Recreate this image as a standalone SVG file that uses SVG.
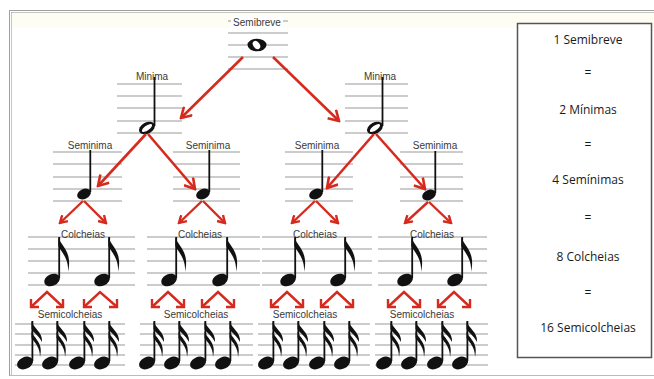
<svg xmlns="http://www.w3.org/2000/svg" xmlns:xlink="http://www.w3.org/1999/xlink" width="654" height="379" viewBox="0 0 654 379">
<style>
.staff{stroke:#9a9a9a;stroke-width:1.2;fill:none}
.lbl{font-family:"Liberation Sans",Arial,sans-serif;font-size:10px;fill:#3a3a3a;text-anchor:middle}
.box{font-family:"Open Sans","Liberation Sans",sans-serif;font-size:12px;fill:#1a1a1a;text-anchor:middle}
.ar{stroke:#d62a1e;stroke-width:2.6;fill:none}
.ars{stroke:#d62a1e;stroke-width:2.4;fill:none}
.stem{stroke:#111;stroke-width:1.8}
.frame{stroke:#a0a0a0;fill:none}
</style>
<defs>
<marker id="ah" viewBox="0 0 14 14" refX="12" refY="7" markerWidth="14" markerHeight="14" markerUnits="userSpaceOnUse" orient="auto"><path d="M2,1 L12,7 L2,13" fill="none" stroke="#d62a1e" stroke-width="2.6"/></marker>
<marker id="ahs" viewBox="0 0 10 10" refX="8.5" refY="5" markerWidth="10" markerHeight="10" markerUnits="userSpaceOnUse" orient="auto"><path d="M1.5,0.8 L8.5,5 L1.5,9.2" fill="none" stroke="#d62a1e" stroke-width="2.4"/></marker>
<g id="n4"><ellipse cx="0" cy="0" rx="7.2" ry="5" transform="rotate(-25)" fill="#111"/><line class="stem" x1="6.3" y1="-2" x2="6.3" y2="-44"/></g>
<g id="n8"><ellipse cx="0" cy="0" rx="8.2" ry="5.8" transform="rotate(-25)" fill="#111"/><line class="stem" x1="7.2" y1="-2" x2="7.2" y2="-43"/><path d="M6.3,-43 C8,-35 21,-29 16,-8 C17,-21 10,-27 6.3,-34 Z" fill="#111"/></g>
<g id="n16"><ellipse cx="0" cy="0" rx="8.4" ry="5.9" transform="rotate(-25)" fill="#111"/><line class="stem" x1="7.4" y1="-2" x2="7.4" y2="-42"/><path d="M6.5,-42 C8,-35 18,-31 17,-21 C14,-27 9,-30 6.5,-34 Z" fill="#111"/><path d="M6.5,-32 C8,-25 19,-21 15,-6 C15,-16 10,-20 6.5,-25 Z" fill="#111"/></g>
</defs>
<rect x="0" y="0" width="654" height="379" fill="#ffffff"/>
<rect x="11" y="12" width="643" height="16" fill="#fdfdf3"/>
<g id="frame">
<line class="frame" x1="9" y1="10.5" x2="654" y2="10.5"/>
<line class="frame" x1="11" y1="12.5" x2="654" y2="12.5" stroke-opacity="0.6"/>
<line class="frame" x1="9.5" y1="10" x2="9.5" y2="376"/>
<line class="frame" x1="11.5" y1="12" x2="11.5" y2="375" stroke-opacity="0.6"/>
<line class="frame" x1="9" y1="375.5" x2="654" y2="375.5" stroke-opacity="0.7"/>
</g>
<g id="semibreve">
<path class="staff" d="M228,21H288M228,33H288M228,45H288M228,57H288M228,69H288"/>
<rect x="231" y="16" width="52" height="12" fill="#fff"/>
<text class="lbl" x="257" y="26">Semibreve</text>
<ellipse cx="257" cy="45" rx="9.5" ry="6.3" fill="#111"/>
<ellipse cx="256.5" cy="45" rx="3.2" ry="4.6" transform="rotate(-35 256.5 45)" fill="#fff"/>
</g>
<g id="minima-1">
<path class="staff" d="M117,84H182M117,96H182M117,108H182M117,121H182M117,133H182"/>
<text class="lbl" x="152" y="80">Minima</text>
<line class="stem" x1="154.5" y1="77" x2="154.5" y2="126"/>
<ellipse cx="147" cy="128" rx="8.5" ry="5.6" transform="rotate(-28 147 128)" fill="#111"/>
<ellipse cx="147" cy="128" rx="6" ry="2.4" transform="rotate(-35 147 128)" fill="#fff"/>
</g>
<g id="minima-2">
<path class="staff" d="M345,84H408M345,96H408M345,108H408M345,121H408M345,133H408"/>
<text class="lbl" x="380" y="80">Minima</text>
<line class="stem" x1="382.5" y1="77" x2="382.5" y2="126"/>
<ellipse cx="375" cy="128" rx="8.5" ry="5.6" transform="rotate(-28 375 128)" fill="#111"/>
<ellipse cx="375" cy="128" rx="6" ry="2.4" transform="rotate(-35 375 128)" fill="#fff"/>
</g>
<g id="seminima-1">
<path class="staff" d="M53,152H122M53,164H122M53,177H122M53,189H122M53,201H122"/>
<text class="lbl" x="90" y="149">Seminima</text>
<use xlink:href="#n4" x="84" y="194"/>
</g>
<g id="seminima-2">
<path class="staff" d="M173,152H240M173,164H240M173,177H240M173,189H240M173,201H240"/>
<text class="lbl" x="208" y="149">Seminima</text>
<use xlink:href="#n4" x="203" y="194"/>
</g>
<g id="seminima-3">
<path class="staff" d="M285,152H353M285,164H353M285,177H353M285,189H353M285,201H353"/>
<text class="lbl" x="317" y="149">Seminima</text>
<use xlink:href="#n4" x="316" y="194"/>
</g>
<g id="seminima-4">
<path class="staff" d="M400,152H463M400,164H463M400,177H463M400,189H463M400,201H463"/>
<text class="lbl" x="435" y="149">Seminima</text>
<use xlink:href="#n4" x="429" y="195"/>
</g>
<g id="colcheias-1">
<path class="staff" d="M28,237H135M28,249H135M28,261H135M28,273H135M28,285H135"/>
<text class="lbl" x="83" y="238">Colcheias</text>
<use xlink:href="#n8" x="52" y="280"/><use xlink:href="#n8" x="102" y="280"/>
</g>
<g id="colcheias-2">
<path class="staff" d="M147,237H260M147,249H260M147,261H260M147,273H260M147,285H260"/>
<text class="lbl" x="200" y="238">Colcheias</text>
<use xlink:href="#n8" x="169" y="280"/><use xlink:href="#n8" x="220" y="280"/>
</g>
<g id="colcheias-3">
<path class="staff" d="M262,237H372M262,249H372M262,261H372M262,273H372M262,285H372"/>
<text class="lbl" x="315" y="238">Colcheias</text>
<use xlink:href="#n8" x="288" y="280"/><use xlink:href="#n8" x="338" y="280"/>
</g>
<g id="colcheias-4">
<path class="staff" d="M378,237H487M378,249H487M378,261H487M378,273H487M378,285H487"/>
<text class="lbl" x="432" y="238">Colcheias</text>
<use xlink:href="#n8" x="405" y="280"/><use xlink:href="#n8" x="455" y="280"/>
</g>
<g id="semicolcheias-1">
<path class="staff" d="M15,324H125M15,334H125M15,345H125M15,355H125M15,365H125"/>
<text class="lbl" x="70" y="318">Semicolcheias</text>
<use xlink:href="#n16" x="25" y="363"/><use xlink:href="#n16" x="50" y="363"/><use xlink:href="#n16" x="77" y="363"/><use xlink:href="#n16" x="102" y="363"/>
</g>
<g id="semicolcheias-2">
<path class="staff" d="M140,324H253M140,334H253M140,345H253M140,355H253M140,365H253"/>
<text class="lbl" x="196" y="318">Semicolcheias</text>
<use xlink:href="#n16" x="147" y="363"/><use xlink:href="#n16" x="172" y="363"/><use xlink:href="#n16" x="198" y="363"/><use xlink:href="#n16" x="223" y="363"/>
</g>
<g id="semicolcheias-3">
<path class="staff" d="M258,324H370M258,334H370M258,345H370M258,355H370M258,365H370"/>
<text class="lbl" x="305" y="318">Semicolcheias</text>
<use xlink:href="#n16" x="266" y="363"/><use xlink:href="#n16" x="291" y="363"/><use xlink:href="#n16" x="317" y="363"/><use xlink:href="#n16" x="342" y="363"/>
</g>
<g id="semicolcheias-4">
<path class="staff" d="M375,324H488M375,334H488M375,345H488M375,355H488M375,365H488"/>
<text class="lbl" x="422" y="318">Semicolcheias</text>
<use xlink:href="#n16" x="384" y="363"/><use xlink:href="#n16" x="409" y="363"/><use xlink:href="#n16" x="435" y="363"/><use xlink:href="#n16" x="460" y="363"/>
</g>
<g id="summary">
<rect x="517.5" y="23.5" width="134" height="334" fill="#fff" stroke="#555" stroke-width="1.5"/>
<text class="box" x="588" y="44">1 Semibreve</text>
<text class="box" x="588" y="77">=</text>
<text class="box" x="588" y="114">2 Mínimas</text>
<text class="box" x="588" y="149">=</text>
<text class="box" x="588" y="184">4 Semínimas</text>
<text class="box" x="588" y="222">=</text>
<text class="box" x="588" y="261">8 Colcheias</text>
<text class="box" x="588" y="297">=</text>
<text class="box" x="588" y="332">16 Semicolcheias</text>
</g>
<g id="connectors">
<line class="ar" x1="243" y1="57" x2="181" y2="118" marker-end="url(#ah)"/>
<line class="ar" x1="273" y1="57" x2="339" y2="121" marker-end="url(#ah)"/>
<line class="ar" x1="146" y1="134" x2="98" y2="186" marker-end="url(#ah)"/>
<line class="ar" x1="148" y1="134" x2="195" y2="189" marker-end="url(#ah)"/>
<line class="ar" x1="374" y1="134" x2="327" y2="188" marker-end="url(#ah)"/>
<line class="ar" x1="376" y1="134" x2="425" y2="189" marker-end="url(#ah)"/>
<g id="c8">
<line class="ars" x1="83" y1="201" x2="60" y2="223" marker-end="url(#ahs)"/>
<line class="ars" x1="84" y1="201" x2="106" y2="223" marker-end="url(#ahs)"/>
<line class="ars" x1="202" y1="201" x2="179" y2="223" marker-end="url(#ahs)"/>
<line class="ars" x1="203" y1="201" x2="225" y2="223" marker-end="url(#ahs)"/>
<line class="ars" x1="315" y1="201" x2="292" y2="223" marker-end="url(#ahs)"/>
<line class="ars" x1="316" y1="201" x2="338" y2="223" marker-end="url(#ahs)"/>
<line class="ars" x1="428" y1="202" x2="405" y2="223" marker-end="url(#ahs)"/>
<line class="ars" x1="429" y1="202" x2="451" y2="223" marker-end="url(#ahs)"/>
</g>
<g id="c16">
<path class="ars" d="M32,306L47,292L62,306"/>
<path class="ars" d="M85,306L100,292L116,306"/>
<path class="ars" d="M153,306L168,292L183,306"/>
<path class="ars" d="M203,306L218,292L233,306"/>
<path class="ars" d="M272,306L287,292L302,306"/>
<path class="ars" d="M322,306L337,292L352,306"/>
<path class="ars" d="M389,306L404,292L419,306"/>
<path class="ars" d="M439,306L454,292L469,306"/>
<g stroke="#d62a1e" stroke-width="2.4" fill="none">
<path d="M31,299V307H39M56,307H63V299"/>
<path d="M84,299V307H92M109,307H117V299"/>
<path d="M152,299V307H160M176,307H184V299"/>
<path d="M202,299V307H210M226,307H234V299"/>
<path d="M271,299V307H279M295,307H303V299"/>
<path d="M321,299V307H329M345,307H353V299"/>
<path d="M388,299V307H396M412,307H420V299"/>
<path d="M438,299V307H446M462,307H470V299"/>
</g>
</g>
</g>
</svg>
